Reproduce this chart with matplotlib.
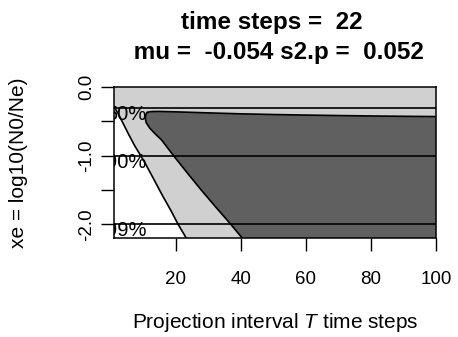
import matplotlib
matplotlib.use("Agg")
import matplotlib.pyplot as plt

plt.rcParams["font.family"] = ["Liberation Sans", "DejaVu Sans"]
plt.rcParams["mathtext.fontset"] = "custom"
plt.rcParams["mathtext.rm"] = "Liberation Sans"
plt.rcParams["mathtext.it"] = "Liberation Sans:italic"

steps = 22
mu = -0.054
s2p = 0.052

xlims = [1, 100]
ylims = [-2.2, 0]

# decline reference lines, xe = log10 of remaining fraction
ref_levels = [-0.30, -1.0, -2.0]
ref_labels = ["50%", "90%", "99%"]
label_x = 4.8

# outer contour (white / light gray border), top to bottom
light_x = [1.0, 2.2, 3.8, 5.5, 7.3, 9.2, 10.8, 13.3, 16.0, 18.5, 20.7, 23.2]
light_y = [-0.29, -0.38, -0.53, -0.69, -0.85, -1.0, -1.13, -1.35, -1.59, -1.80, -2.0, -2.2]

# inner contour (dark region), left edge top to bottom
dark_left_x = [11.2, 10.8, 10.6, 10.9, 12.0, 13.6, 15.6, 19.3, 23.5, 27.8, 32.3, 36.9, 40.4]
dark_left_y = [-0.372, -0.40, -0.45, -0.52, -0.60, -0.68, -0.77, -1.0, -1.25, -1.5, -1.75,
               -2.0, -2.2]
# inner contour, top edge left to right
dark_top_x = [11.2, 11.8, 12.8, 15, 20, 30, 40, 50, 60, 70, 80, 90, 100]
dark_top_y = [-0.372, -0.362, -0.357, -0.356, -0.362, -0.377, -0.391, -0.401, -0.409,
              -0.416, -0.422, -0.427, -0.431]

xticks = [20, 40, 60, 80, 100]
yticks = [0, -0.5, -1.0, -1.5, -2.0]
ytick_labels = ["0.0", "", "-1.0", "", "-2.0"]

light_col = "#d0d0d0"
dark_col = "#606060"

fig = plt.figure(figsize=(4.58, 3.37), dpi=100)
ax = fig.add_axes([114 / 458, 99 / 337, 322 / 458, 151 / 337])

# light band: everything right of / above the outer contour
lx = [xlims[0], xlims[1], xlims[1]] + light_x[::-1]
ly = [ylims[1], ylims[1], ylims[0]] + light_y[::-1]
ax.fill(lx, ly, color=light_col, lw=0)

dx = dark_top_x + [xlims[1]] + dark_left_x[::-1]
dy = dark_top_y + [ylims[0]] + dark_left_y[::-1]
ax.fill(dx, dy, color=dark_col, lw=0)

for lev, lab in zip(ref_levels, ref_labels):
    ax.axhline(lev, color="black", lw=1.2)
    ax.text(label_x, lev - 0.175, lab, ha="center", va="baseline",
            fontsize=14.5, clip_on=True)

ax.plot(light_x, light_y, color="black", lw=1.2)
ax.plot(dark_left_x, dark_left_y, color="black", lw=1.2)
ax.plot(dark_top_x, dark_top_y, color="black", lw=1.2)

ax.set_xlim(xlims)
ax.set_ylim(ylims)
ax.set_xticks(xticks)
ax.set_yticks(yticks)
ax.set_yticklabels(ytick_labels)
ax.tick_params(direction="out", length=9.4, width=1.0, labelsize=13.5)
ax.tick_params(axis="x", pad=14)
ax.tick_params(axis="y", pad=4)
plt.setp(ax.get_yticklabels(), rotation=90, va="center")
for sp in ax.spines.values():
    sp.set_linewidth(1.1)

fig.text(275 / 458, 1 - 29.3 / 337, "time steps =  %d " % steps,
         ha="center", va="baseline", fontsize=17.5, fontweight="bold")
fig.text(275 / 458, 1 - 59.3 / 337, " mu =  %s s2.p =  %s" % (mu, s2p),
         ha="center", va="baseline", fontsize=17.5, fontweight="bold")

fig.text(275 / 458, 1 - 328 / 337, "Projection interval $T$ time steps",
         ha="center", va="baseline", fontsize=15)
fig.text(19 / 458, 1 - 162.5 / 337, "xe = log10(N0/Ne)", rotation=90,
         ha="center", va="center", fontsize=15)

fig.savefig("out.png", dpi=100)
